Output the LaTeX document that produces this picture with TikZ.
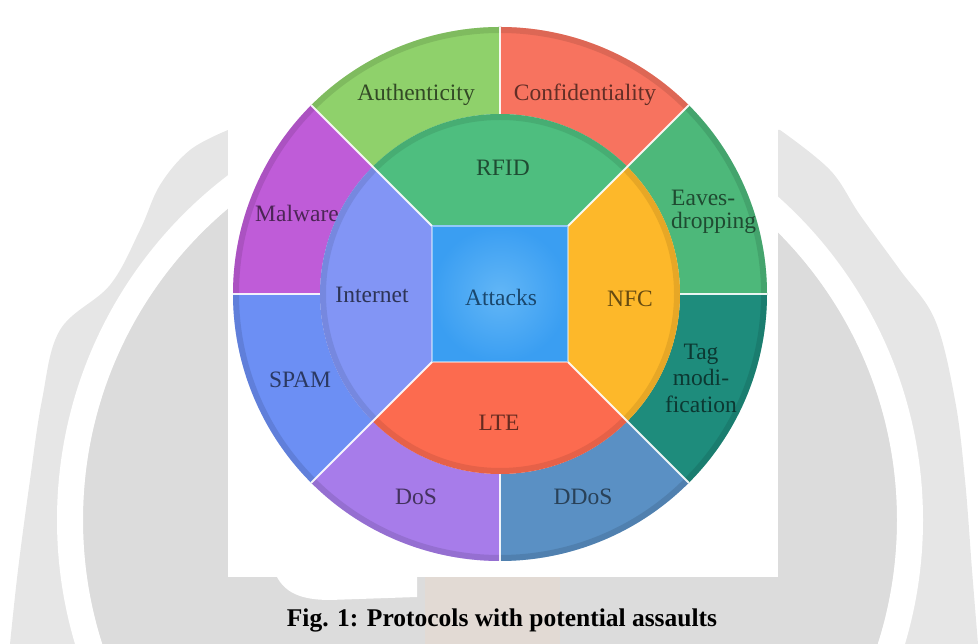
\documentclass[tikz,border=0pt]{standalone}
\usepackage{fontspec}
\setmainfont{Liberation Serif}
\definecolor{cAuth}{HTML}{8FD16B}
\definecolor{cConf}{HTML}{F7735F}
\definecolor{cEav}{HTML}{4DB87A}
\definecolor{cTag}{HTML}{1E8C7C}
\definecolor{cDdos}{HTML}{5A90C4}
\definecolor{cDos}{HTML}{A77CEA}
\definecolor{cSpam}{HTML}{6C8FF4}
\definecolor{cMal}{HTML}{BF5CD8}
\definecolor{cRfid}{HTML}{4EBE7F}
\definecolor{cNfc}{HTML}{FDB82A}
\definecolor{cLte}{HTML}{FC6B4F}
\definecolor{cNet}{HTML}{8295F5}
\definecolor{cAtk}{HTML}{3A9EF2}
\definecolor{cAtkL}{HTML}{62B6F6}
\definecolor{wmout}{HTML}{E6E6E6}
\definecolor{wmin}{HTML}{DCDCDC}
\definecolor{peach}{HTML}{EAD9CC}
\tikzset{
  lbl/.style={font=\fontsize{23.5}{25}\selectfont, inner sep=0pt},
  sepline/.style={draw=white, line width=2pt, opacity=0.9},
  rim/.style={line width=12pt, opacity=0.35}
}
\begin{document}
\begin{tikzpicture}[x=1pt,y=1pt]
\useasboundingbox (0,0) rectangle (980,644);
% ---- faint watermark of the page
\def\silh{plot[smooth, tension=0.6] coordinates {(228,514) (190,494) (160,459) (140,414) (110,359) (60,314) (42,244) (30,164) (18,74) (10,0)} -- (978,0) -- plot[smooth, tension=0.6] coordinates {(978,0) (972,74) (965,164) (955,244) (935,324) (900,374) (860,429) (830,474) (780,514)} -- cycle}
\fill[wmout] \silh;
\begin{scope}
  \clip \silh;
  \fill[wmin] (490,124) circle (407pt);
  \draw[white, line width=26pt] (490,124) circle (420pt);
\end{scope}
\fill[white] (277,67) .. controls (285,52) and (300,44) .. (330,44) -- (417,47) -- (417,67) -- cycle;
\fill[peach, opacity=0.45] (425,0) rectangle (560,67);
% ---- figure background
\fill[white] (228,67) rectangle (778,644);
% ---- wheel
\begin{scope}[shift={(500,350)}]
  \foreach \a/\c in {0/cEav,45/cConf,90/cAuth,135/cMal,180/cSpam,225/cDos,270/cDdos,315/cTag} {
    \begin{scope}
      \clip (\a:180) -- (\a:267) arc[start angle=\a, end angle=\a+45, radius=267pt]
            -- (\a+45:180) arc[start angle=\a+45, end angle=\a, radius=180pt] -- cycle;
      \fill[\c] (0,0) circle (270pt);
      \draw[\c!70!black, rim] (0,0) circle (267pt);
    \end{scope}
  }
  % outer labels
  \node[lbl, text=cAuth!35!black] (auth) at (-84,199) {Authenticity};
  \node[lbl, text=cConf!40!black] (conf) at (85,199) {Confidentiality};
  \node[lbl, text=cMal!40!black] (mal) at (-203,81) {Malware};
  \node[lbl, text=cEav!40!black, align=left, anchor=west,
        font=\fontsize{23.5}{23}\selectfont] (eav) at (171,82) {Eaves-\\dropping};
  \node[lbl, text=cSpam!40!black] (spam) at (-200,-86) {SPAM};
  \node[lbl, text=cTag!40!black, align=center,
        font=\fontsize{23.5}{26.5}\selectfont] (tag) at (201,-84) {Tag\\modi-\\fication};
  \node[lbl, text=cDos!40!black] (dos) at (-84,-203) {DoS};
  \node[lbl, text=cDdos!45!black] (ddos) at (83,-203) {DDoS};
  % protocol ring
  \foreach \a/\c in {45/cRfid,135/cNet,225/cLte,315/cNfc} {
    \begin{scope}
      \clip ({\a}:96.17) -- (\a:180) arc[start angle=\a, end angle=\a+90, radius=180pt]
            -- (\a+90:96.17) -- cycle;
      \fill[\c] (0,0) circle (182pt);
      \draw[\c!75!black, rim] (0,0) circle (180pt);
    \end{scope}
  }
  % centre square
  \shade[inner color=cAtkL, outer color=cAtk] (-68,-68) rectangle (68,68);
  \draw[white, opacity=0.45, line width=1.5pt] (-68,-68) rectangle (68,68);
  % separators
  \foreach \a in {0,90,180,270} \draw[sepline] (\a:180) -- (\a:267);
  \foreach \a in {45,135,225,315} \draw[sepline] (\a:96.17) -- (\a:267);
  % inner labels
  \node[lbl, text=cRfid!40!black] (rfid) at (3,126) {RFID};
  \node[lbl, text=cNet!35!black] (net) at (-128,-1) {Internet};
  \node[lbl, text=cAtk!45!black] (atk) at (1,-3) {Attacks};
  \node[lbl, text=cNfc!40!black] (nfc) at (130,-5) {NFC};
  \node[lbl, text=cLte!40!black] (lte) at (-1,-129) {LTE};
\end{scope}
% ---- caption
\node[font=\bfseries\fontsize{25.5}{27}\selectfont, inner sep=0pt, anchor=base] (cap) at (502,17) {Fig. 1: Protocols with potential assaults};
\end{tikzpicture}
\end{document}
